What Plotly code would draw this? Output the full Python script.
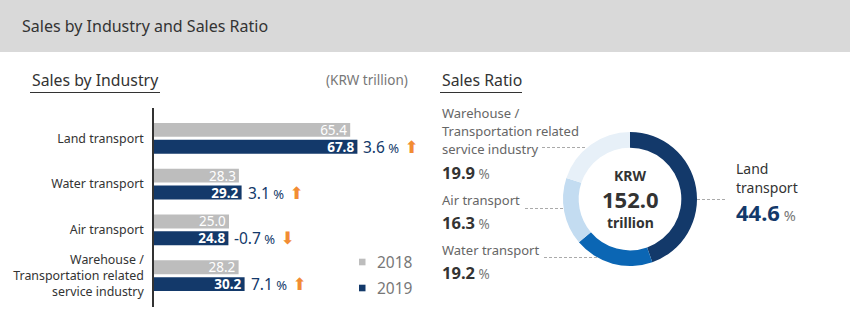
import plotly.graph_objects as go

W, H = 850, 327

# ---- data ----
categories = ["Land transport", "Water transport", "Air transport",
              "Warehouse /<br>Transportation related<br>service industry"]
sales_2018 = [65.4, 28.3, 25.0, 28.2]
sales_2019 = [67.8, 29.2, 24.8, 30.2]
growth_pct = [3.6, 3.1, -0.7, 7.1]

ratio_labels = ["Land transport", "Water transport", "Air transport",
                "Warehouse / Transportation related service industry"]
ratio_values = [44.6, 19.2, 16.3, 19.9]
total_sales = "152.0"

FONT = "Noto Sans"
DARK = "#333333"
GRAY = "#666666"
BAR_GRAY = "#bdbdbd"
NAVY = "#13396a"
ORANGE = "#f28c33"
DONUT_COLORS = ["#13396a", "#0b66b4", "#c3dcf1", "#e7f0f8"]


def px(x):
    return x / W


def py(y):
    return 1 - y / H


fig = go.Figure()

fig.add_trace(go.Bar(
    y=categories, x=sales_2018, orientation="h", name="2018",
    marker=dict(color=BAR_GRAY, line=dict(width=0)),
    text=[f"{v:.1f}" for v in sales_2018], textposition="inside",
    insidetextanchor="end", constraintext="none",
    textfont=dict(family=FONT, size=13.5, color="white"),
    showlegend=False, hoverinfo="skip"))
fig.add_trace(go.Bar(
    y=categories, x=sales_2019, orientation="h", name="2019",
    marker=dict(color=NAVY, line=dict(width=0)),
    text=[f"<b>{v:.1f}</b>" for v in sales_2019], textposition="inside",
    insidetextanchor="end", constraintext="none",
    textfont=dict(family=FONT, size=13.5, color="white"),
    showlegend=False, hoverinfo="skip"))

fig.add_trace(go.Pie(
    labels=ratio_labels, values=ratio_values, sort=False,
    direction="clockwise", rotation=0, hole=0.766,
    marker=dict(colors=DONUT_COLORS, line=dict(width=0)),
    textinfo="none", hoverinfo="skip", showlegend=False,
    domain=dict(x=[px(563), px(697)], y=[py(266), py(132)])))

fig.update_layout(
    width=W, height=H, margin=dict(l=0, r=0, t=0, b=0),
    paper_bgcolor="white", plot_bgcolor="rgba(0,0,0,0)",
    barmode="group", bargap=0.26, bargroupgap=0.176,
    font=dict(family=FONT, color=DARK),
    xaxis=dict(domain=[px(154), px(394)], range=[0, 80], visible=False,
               fixedrange=True),
    yaxis=dict(domain=[py(307), py(108)], range=[3.685, -0.663],
               showline=True, linecolor="#333333", linewidth=1.5,
               showgrid=False, zeroline=False, ticks="",
               ticklabelstandoff=6,
               tickfont=dict(family=FONT, size=12.4, color=DARK)),
)

shapes = []
annotations = []


def note(x, y, text, size, color, xanchor="left", **kw):
    annotations.append(dict(xref="paper", yref="paper", x=px(x), y=py(y),
                            xanchor=xanchor, yanchor="middle", showarrow=False,
                            text=text, font=dict(family=FONT, size=size, color=color),
                            **kw))


# header band
shapes.append(dict(type="rect", xref="paper", yref="paper", x0=0, x1=1,
                   y0=py(52), y1=1, fillcolor="#d9d9d9", line=dict(width=0),
                   layer="below"))
note(20, 26, "Sales by Industry and Sales Ratio", 16, DARK)

# section titles
for x0, x1, t in [(30, 160, "Sales by Industry"), (440, 522, "Sales Ratio")]:
    note(x0, 80, t, 15.8, DARK)
    shapes.append(dict(type="line", xref="paper", yref="paper",
                       x0=px(x0), x1=px(x1), y0=py(92.5), y1=py(92.5),
                       line=dict(color=DARK, width=1.2)))
note(410, 80, "(KRW trillion)", 13.5, "#777777", xanchor="right")

# growth labels
for cat, v, g in zip(categories, sales_2019, growth_pct):
    arrow = "⬆" if g >= 0 else "⬇"
    annotations.append(dict(
        xref="x", yref="y", x=v, y=cat, xanchor="left", yanchor="middle",
        xshift=4, yshift=-8.5, showarrow=False,
        text=(f"<span style='font-size:15.5px'>{g:.1f}</span>"
              f"<span style='font-size:13px'> %</span>"
              f"<span style='color:{ORANGE};font-size:17px;font-family:DejaVu Sans'> {arrow}</span>"),
        font=dict(family=FONT, color=NAVY)))

# legend (manual)
for yy, name, col in [(262, "2018", BAR_GRAY), (288, "2019", NAVY)]:
    shapes.append(dict(type="rect", xref="paper", yref="paper",
                       x0=px(359), x1=px(365.5), y0=py(yy + 3.3), y1=py(yy - 3.3),
                       fillcolor=col, line=dict(width=0)))
    note(375, yy, name, 15.5, "#777777")

# donut center
note(630, 175, "<b>KRW</b>", 14, DARK, xanchor="center", borderpad=0)
note(630, 199, f"<b>{total_sales}</b>", 22, DARK, xanchor="center", borderpad=0)
note(630, 223, "<b>trillion</b>", 14, DARK, xanchor="center", borderpad=0)


def pct_text(v, size, color):
    return (f"<span style='font-size:{size}px;color:{color}'><b>{v:.1f}</b></span>"
            f"<span style='font-size:13.5px;color:#777777'> %</span>")


# donut labels left
left_items = [
    (["Warehouse /", "Transportation related", "service industry"], 113, 172, ratio_values[3]),
    (["Air transport"], 200, 222, ratio_values[2]),
    (["Water transport"], 250, 272, ratio_values[1]),
]
for lines, ty, vy, v in left_items:
    for i, ln in enumerate(lines):
        note(440, ty + 18 * i, ln, 13, GRAY)
    note(440, vy, pct_text(v, 16.5, DARK), 13, DARK)

# donut label right
note(734, 168, "Land", 14, DARK)
note(734, 187, "transport", 14, DARK)
note(734, 212, (f"<span style='font-size:22px;color:{NAVY}'><b>{ratio_values[0]:.1f}</b></span>"
                f"<span style='font-size:14.5px;color:#777777'> %</span>"), 14, DARK)

# leader lines
for x0, x1, yy in [(542, 585, 147.5), (525, 563, 208.5), (544, 598, 257.5),
                   (697, 725, 199.5)]:
    shapes.append(dict(type="line", xref="paper", yref="paper",
                       x0=px(x0), x1=px(x1), y0=py(yy), y1=py(yy),
                       line=dict(color="#aaaaaa", width=1, dash="3px,2px")))

fig.update_layout(shapes=shapes, annotations=annotations)
fig.write_html("out.html")
